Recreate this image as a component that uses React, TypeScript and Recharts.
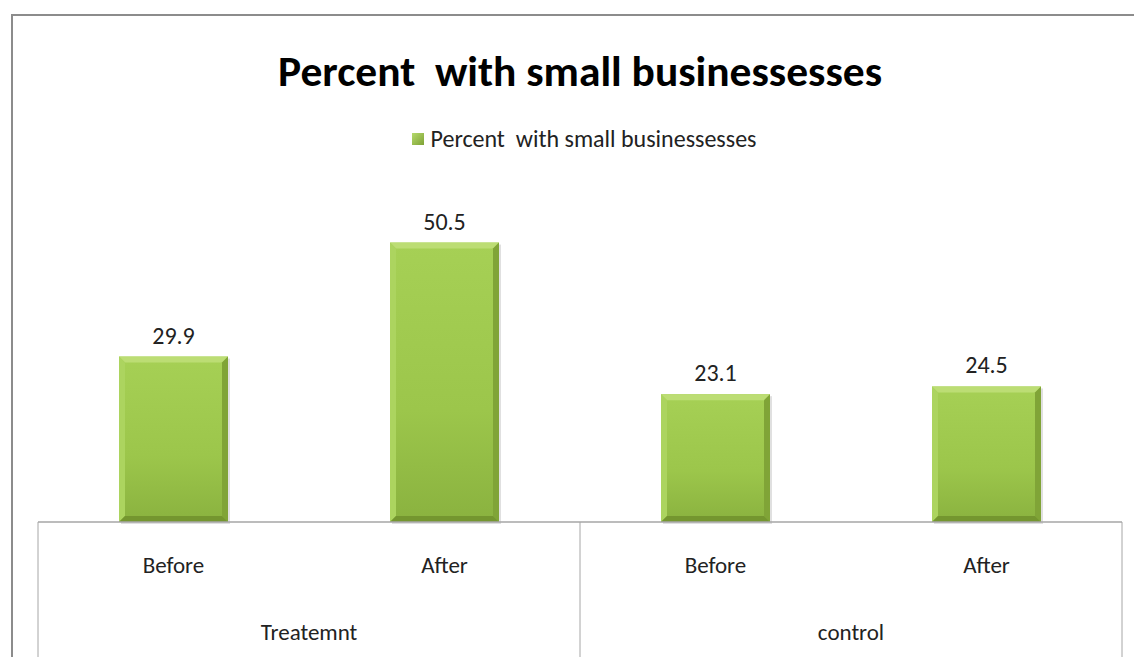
import { BarChart, Bar, XAxis, YAxis, LabelList, Legend } from "recharts";

// categorías y valores
const PHASES = ["Before", "After", "Before", "After"];
const GROUPS = ["Treatemnt", "Treatemnt", "control", "control"];
const PERCENT = [29.9, 50.5, 23.1, 24.5];
const SERIES_NAME = "Percent  with small businessesses";
const TITLE = "Percent  with small businessesses";

const data = PHASES.map((phase, i) => ({
  phase,
  group: GROUPS[i],
  value: PERCENT[i],
}));

const FONT = "Carlito, 'Liberation Sans Narrow', 'Open Sans', sans-serif";
const BAND = (1134 - 38 - 12) / PHASES.length;
const AXIS_COLOR = "#a6a6a6";

// barra con bisel, al estilo de Excel 2007
const BevelBar = (props: any) => {
  const { x, y, width, height } = props;
  if (!height || height <= 0) return null;
  const b = 6;
  const x2 = x + width;
  const y2 = y + height;
  return (
    <g>
      <rect x={x + 2} y={y + 2} width={width} height={height} fill="rgba(0,0,0,0.12)" />
      <rect x={x} y={y} width={width} height={height} fill="url(#barFill)" />
      <polygon points={`${x},${y} ${x2},${y} ${x2 - b},${y + b} ${x + b},${y + b}`} fill="#bcdd74" />
      <polygon points={`${x},${y} ${x + b},${y + b} ${x + b},${y2 - b} ${x},${y2}`} fill="#acd45f" />
      <polygon points={`${x2},${y} ${x2},${y2} ${x2 - b},${y2 - b} ${x2 - b},${y + b}`} fill="#80a437" />
      <polygon points={`${x},${y2} ${x + b},${y2 - b} ${x2 - b},${y2 - b} ${x2},${y2}`} fill="#74962f" />
    </g>
  );
};

const GroupTick = (props: any) => {
  const { x, y, payload } = props;
  const i = payload.index;
  const half = BAND / 2;
  const lines: number[] = [];
  if (i === 0 || GROUPS[i] !== GROUPS[i - 1]) lines.push(x - half);
  if (i === PHASES.length - 1) lines.push(x + half);
  const showGroup = i === 0 || GROUPS[i] !== GROUPS[i - 1];
  return (
    <g>
      {lines.map((lx) => (
        <line key={lx} x1={lx} y1={y} x2={lx} y2={y + 140} stroke={AXIS_COLOR} strokeWidth={1} />
      ))}
      <text x={x} y={y + 51} textAnchor="middle" fontSize={23} fontFamily={FONT} fill="#222">
        {payload.value}
      </text>
      {showGroup && (
        <text x={x + half} y={y + 118} textAnchor="middle" fontSize={23} fontFamily={FONT} fill="#222">
          {GROUPS[i]}
        </text>
      )}
    </g>
  );
};

const LegendContent = () => (
  <div
    style={{
      display: "flex",
      justifyContent: "center",
      alignItems: "center",
      fontFamily: FONT,
      fontSize: 24,
      color: "#222",
      whiteSpace: "pre",
      height: 29,
      paddingLeft: 34,
    }}
  >
    <span
      style={{
        display: "inline-block",
        width: 12,
        height: 12,
        marginRight: 7,
        background: "linear-gradient(135deg, #b5da6c, #7fa236)",
      }}
    />
    {SERIES_NAME}
  </div>
);

export default function App() {
  return (
    <div style={{ position: "absolute", left: 0, top: 0, width: 1134, height: 657, background: "#fff", overflow: "hidden" }}>
      <div
        style={{
          position: "absolute",
          left: 11,
          top: 14,
          width: 1200,
          height: 700,
          borderLeft: "2px solid #8c8c8c",
          borderTop: "2px solid #8c8c8c",
        }}
      />
      <svg style={{ position: "absolute", left: 0, top: 0 }} width={1134} height={120}>
        <text
          x={580}
          y={86}
          textAnchor="middle"
          fontSize={42}
          fontWeight="bold"
          fontFamily={FONT}
          fill="#000"
          textLength={604}
          lengthAdjust="spacingAndGlyphs"
          style={{ whiteSpace: "pre" }}
        >
          {TITLE}
        </text>
      </svg>
      <div style={{ position: "absolute", left: 0, top: 0 }}>
        <BarChart
          width={1134}
          height={657}
          data={data}
          margin={{ top: 161, right: 12, left: 38, bottom: 0 }}
        >
          <defs>
            <linearGradient id="barFill" x1="0" y1="0" x2="0" y2="1">
              <stop offset="0%" stopColor="#a6d055" />
              <stop offset="60%" stopColor="#9cc64b" />
              <stop offset="100%" stopColor="#8ab23f" />
            </linearGradient>
          </defs>
          <XAxis
            dataKey="phase"
            axisLine={{ stroke: AXIS_COLOR, strokeWidth: 1.5 }}
            tickLine={false}
            tickSize={0}
            tickMargin={0}
            height={135}
            interval={0}
            tick={<GroupTick />}
          />
          <YAxis hide domain={[0, 60]} />
          <Legend
            verticalAlign="top"
            content={<LegendContent />}
            wrapperStyle={{ top: 124, left: 0, width: 1134 }}
          />
          <Bar
            dataKey="value"
            name={SERIES_NAME}
            shape={<BevelBar />}
            barSize={109}
            isAnimationActive={false}
          >
            <LabelList dataKey="value" position="top" offset={13} fontSize={24} fontFamily={FONT} fill="#222" />
          </Bar>
        </BarChart>
      </div>
    </div>
  );
}
